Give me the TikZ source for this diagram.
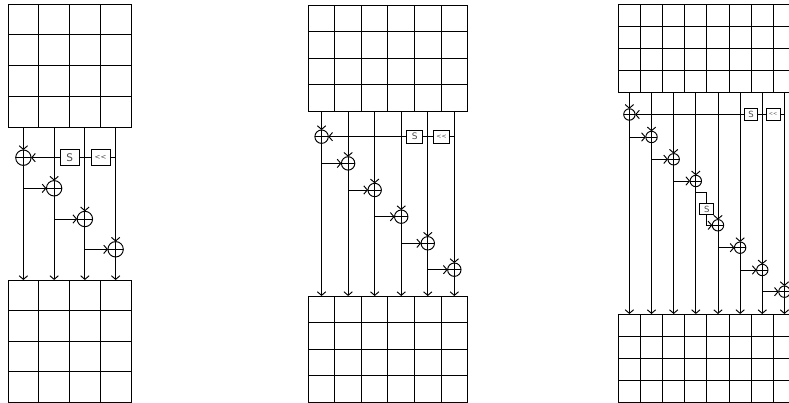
\documentclass[tikz,border=0pt]{standalone}
\usepackage{fontspec}
\setmainfont{DejaVu Sans}
\usetikzlibrary{arrows.meta}
\tikzset{
  x=1pt,y=-1pt,
  base/.style={line width=0.95pt,draw=black},
  wire/.style={base},
  arr/.style={base,-{Straight Barb[length=3.6pt,width=8.4pt,line width=0.95pt]}},
  xorn/.style={circle,base,inner sep=0pt,outer sep=0pt,minimum size=#1},
  opbox/.style={rectangle,base,inner sep=0pt,outer sep=0pt,text=black!70},
}
\newcommand{\stategrid}[6]{
  \foreach \r in {0,...,3}{\foreach \c in {1,...,#4}{
    \node[rectangle,base,inner sep=0pt,outer sep=0pt,minimum width=#5 pt,minimum height=#6 pt,anchor=north west]
      (#1-\r-\c) at ({#2+(\c-1)*#5},{#3+\r*#6}) {};
  }}
}
\begin{document}
\begin{tikzpicture}
\useasboundingbox (0,0) rectangle (789,403);
%% ---- panel 1
\stategrid{ta}{8}{4}{4}{30.75}{30.75}
\stategrid{ba}{8}{280}{4}{30.75}{30.5}
\foreach \c/\y in {1/157.7,2/188.3,3/219,4/249.3}{
  \node[xorn=15.4pt] (xa\c) at ({8+(\c-.5)*30.75},\y) {};
  \draw[wire] (xa\c.north) -- (xa\c.south) (xa\c.west) -- (xa\c.east);
  \draw[arr] (ta-3-\c.south) -- (xa\c.north);
  \draw[arr] (xa\c.south) -- (ba-0-\c.north);
}
\foreach \p/\c in {1/2,2/3,3/4}{
  \coordinate (fa\c) at (ta-3-\p.south |- xa\c.west);
  \draw[arr] (fa\c) -- (xa\c.west);
}
\node[opbox,minimum width=18.7pt,minimum height=15.5pt,font=\fontsize{10.5}{10.5}\selectfont] (sa) at (69.7,157.7) {S};
\node[opbox,minimum width=19pt,minimum height=15.5pt,font=\fontsize{7}{7}\selectfont] (ra) at (100.5,157.7) {<{}<};
\coordinate (ea) at (ta-3-4.south |- ra.east);
\draw[wire] (ea) -- (ra.east) (ra.west) -- (sa.east);
\draw[arr] (sa.west) -- (xa1.east);
%% ---- panel 2
\stategrid{tb}{308.3}{5}{6}{26.55}{26.5}
\stategrid{bb}{308.3}{296}{6}{26.55}{26.5}
\foreach \c/\y in {1/136.7,2/163.4,3/190,4/216.7,5/243.3,6/269.7}{
  \node[xorn=13.4pt] (xb\c) at ({308.3+(\c-.5)*26.55},\y) {};
  \draw[wire] (xb\c.north) -- (xb\c.south) (xb\c.west) -- (xb\c.east);
  \draw[arr] (tb-3-\c.south) -- (xb\c.north);
  \draw[arr] (xb\c.south) -- (bb-0-\c.north);
}
\foreach \p/\c in {1/2,2/3,3/4,4/5,5/6}{
  \coordinate (fb\c) at (tb-3-\p.south |- xb\c.west);
  \draw[arr] (fb\c) -- (xb\c.west);
}
\node[opbox,minimum width=16.3pt,minimum height=13pt,font=\fontsize{9}{9}\selectfont] (sb) at (414.8,136.7) {S};
\node[opbox,minimum width=16.3pt,minimum height=13pt,font=\fontsize{6}{6}\selectfont] (rb) at (441.5,136.7) {<{}<};
\coordinate (eb) at (tb-3-6.south |- rb.east);
\draw[wire] (eb) -- (rb.east) (rb.west) -- (sb.east);
\draw[arr] (sb.west) -- (xb1.east);
%% ---- panel 3
\stategrid{tc}{618.3}{4.3}{8}{22.15}{22.15}
\stategrid{bc}{618.3}{314}{8}{22.15}{22}
\foreach \c/\y in {1/114.5,2/137,3/159.3,4/181,5/225.3,6/247.7,7/270,8/291.7}{
  \node[xorn=11.4pt] (xc\c) at ({618.3+(\c-.5)*22.15},\y) {};
  \draw[wire] (xc\c.north) -- (xc\c.south) (xc\c.west) -- (xc\c.east);
  \draw[arr] (tc-3-\c.south) -- (xc\c.north);
  \draw[arr] (xc\c.south) -- (bc-0-\c.north);
}
\foreach \p/\c in {1/2,2/3,3/4,5/6,6/7,7/8}{
  \coordinate (fc\c) at (tc-3-\p.south |- xc\c.west);
  \draw[arr] (fc\c) -- (xc\c.west);
}
\node[opbox,minimum width=13.4pt,minimum height=11.4pt,font=\fontsize{8.5}{8.5}\selectfont] (sc) at (751,114.5) {S};
\node[opbox,minimum width=14pt,minimum height=11.4pt,font=\fontsize{5}{5}\selectfont] (rc) at (773,114.5) {<{}<};
\coordinate (ec) at (tc-3-8.south |- rc.east);
\draw[wire] (ec) -- (rc.east) (rc.west) -- (sc.east);
\draw[arr] (sc.west) -- (xc1.east);
\node[opbox,minimum width=13.7pt,minimum height=11pt,font=\fontsize{8.5}{8.5}\selectfont] (sd) at (706.8,209.2) {S};
\coordinate (fd0) at (tc-3-4.south |- 0,192.3);
\coordinate (fd1) at (sd.north |- fd0);
\coordinate (fd2) at (sd.south |- xc5.west);
\draw[wire] (fd0) -- (fd1) -- (sd.north);
\draw[arr] (sd.south) -- (fd2) -- (xc5.west);
\end{tikzpicture}
\end{document}
